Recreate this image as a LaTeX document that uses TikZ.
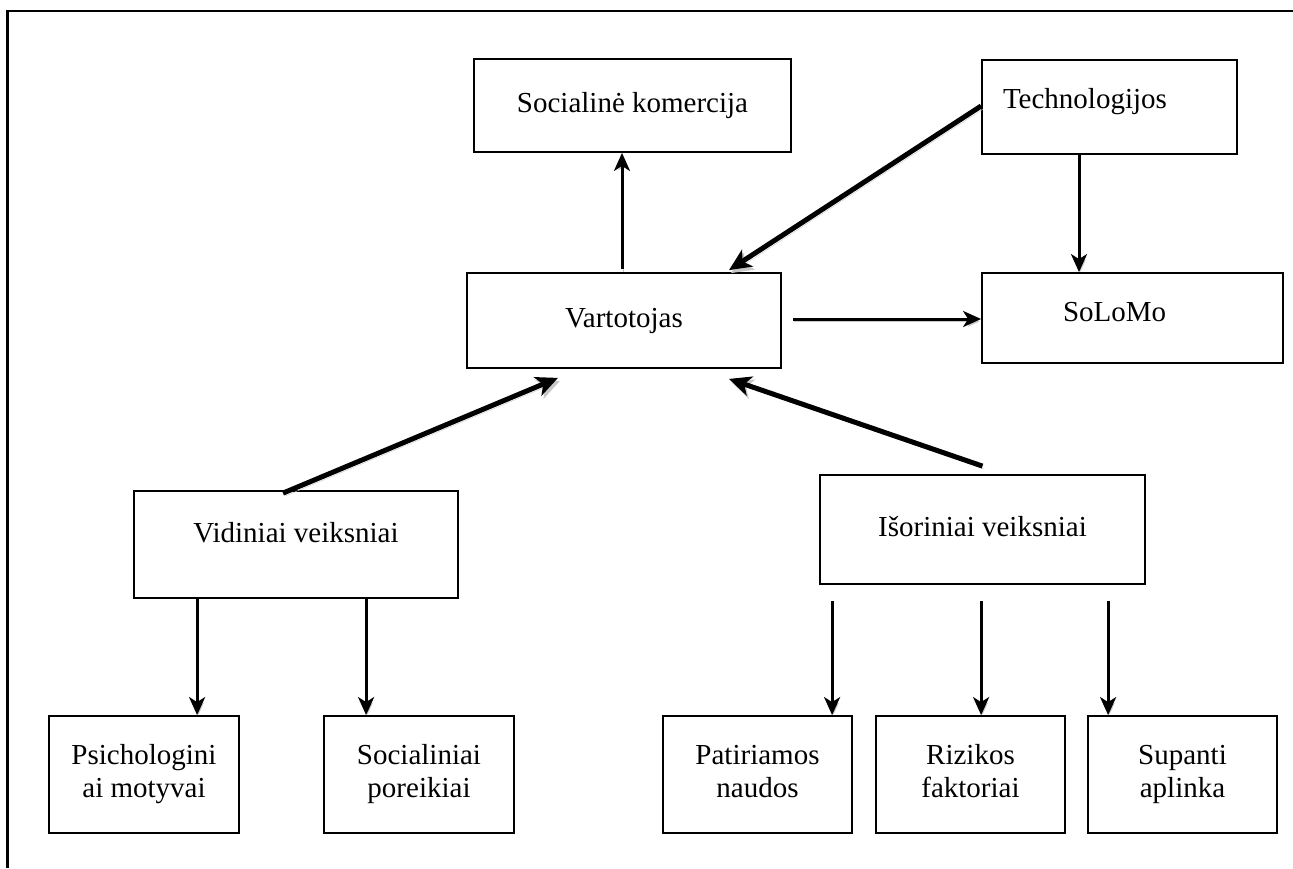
\documentclass[tikz,border=0pt]{standalone}
\usepackage{fontspec}
\setmainfont{Liberation Serif}
\usetikzlibrary{arrows.meta,calc}
\newcommand\mystrut{\rule[-7pt]{0pt}{27pt}}
\begin{document}
\begin{tikzpicture}[x=1pt,y=-1pt,
  box/.style={draw, line width=1.8pt, rectangle, inner sep=0pt, align=center,
    font=\fontsize{29pt}{33pt}\selectfont},
  thin/.style={line width=3pt, -{Stealth[length=18pt,width=16pt,inset=5pt]},
    preaction={draw=black!22, transform canvas={shift={(1.5pt,-2.5pt)}}}},
  thick/.style={line width=5pt, -{Stealth[length=22pt,width=20pt,inset=6pt]},
    preaction={draw=black!22, transform canvas={shift={(2pt,-3pt)}}}}]
\useasboundingbox (0,0) rectangle (1293,868);
\draw[line width=2.4pt] (7.5,868) -- (7.5,11) -- (1293,11);

\node[box, minimum width=317pt, minimum height=93pt] (sk) at (632.5,105.5) {\mystrut Socialinė komercija};
\node[box, minimum width=255pt, minimum height=94pt, text width=213pt, inner xsep=21pt, align=left,
  text height=20pt, text depth=18pt] (tech) at (1109.5,107) {Technologijos};
\node[box, minimum width=314pt, minimum height=95pt] (vart) at (624,320.5) {\mystrut Vartotojas};
\node[box, minimum width=301pt, minimum height=90pt, text width=139pt, inner xsep=81pt, align=left,
  text height=20pt, text depth=14pt] (solomo) at (1132.5,318) {SoLoMo};
\node[box, minimum width=324pt, minimum height=107pt, text height=20pt, text depth=25pt] (vid) at (296,544.5) {Vidiniai veiksniai};
\node[box, minimum width=325pt, minimum height=109pt] (isor) at (982.5,529.5) {\mystrut Išoriniai veiksniai};
\node[box, minimum width=190pt, minimum height=117pt] (psy) at (144,774.5) {\mystrut Psichologini\\\mystrut ai motyvai};
\node[box, minimum width=190pt, minimum height=117pt] (soc) at (419,774.5) {\mystrut Socialiniai\\\mystrut poreikiai};
\node[box, minimum width=189pt, minimum height=117pt] (pat) at (757.5,774.5) {\mystrut Patiriamos\\\mystrut naudos};
\node[box, minimum width=189pt, minimum height=117pt] (riz) at (970.5,774.5) {\mystrut Rizikos\\\mystrut faktoriai};
\node[box, minimum width=189pt, minimum height=117pt] (sup) at (1182.5,774.5) {\mystrut Supanti\\\mystrut aplinka};

\draw[thin] ([xshift=-2pt,yshift=3pt]vart.north) -- ([xshift=-2pt]vart.north |- sk.south);
\draw[thick] ([yshift=1pt]tech.west) -- ([xshift=105pt,yshift=2pt]vart.north);
\draw[thin] ([xshift=-30.5pt]tech.south) -- ([xshift=-30.5pt]tech.south |- solomo.north);
\draw[thin] ([xshift=11pt,yshift=1.5pt]vart.east) -- ([yshift=1.5pt]vart.east -| solomo.west);
\draw[thick] ([xshift=-13pt,yshift=-3pt]vid.north) -- ([xshift=-66pt,yshift=-9pt]vart.south);
\draw[thick] ([yshift=8pt]isor.north) -- ([xshift=105pt,yshift=-10pt]vart.south);
\draw[thin] ([xshift=64pt]vid.south west) -- ([xshift=64pt]vid.south west |- psy.north);
\draw[thin] ([xshift=233pt]vid.south west) -- ([xshift=233pt]vid.south west |- soc.north);
\draw[thin] ([xshift=13pt,yshift=-16pt]isor.south west) -- ([xshift=13pt]isor.south west |- pat.north);
\draw[thin] ([xshift=162pt,yshift=-16pt]isor.south west) -- ([xshift=162pt]isor.south west |- riz.north);
\draw[thin] ([xshift=289pt,yshift=-16pt]isor.south west) -- ([xshift=289pt]isor.south west |- sup.north);
\end{tikzpicture}
\end{document}
